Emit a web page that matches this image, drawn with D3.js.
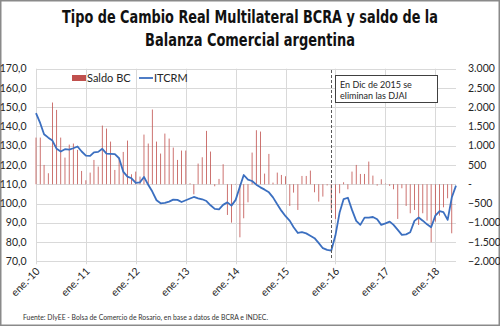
<!DOCTYPE html>
<html>
<head>
<meta charset="utf-8">
<script src="https://cdn.jsdelivr.net/npm/d3@7"></script>
<style>
	body { margin: 0; background: #fff }
	svg { display: block; font-family: Lato, 'Noto Sans', sans-serif }
	.grid line { stroke: #d9d9d9; stroke-width: 1 }
	.ticks text { font-size: 10.5px; fill: #262626 }
	.title { font-family: 'Liberation Sans Narrow', 'DejaVu Sans Condensed', sans-serif; font-weight: bold; font-size: 18px; fill: #111 }
	.legend text { font-size: 11px; fill: #262626 }
	.note text { font-size: 9px; fill: #262626 }
	.source { font-size: 7.5px; fill: #333 }
</style>
</head>
<body>
<svg id="chart" width="500" height="326"></svg>
<script>
// monthly, ene-2010 .. jun-2018
const months = d3.timeMonth.range(new Date(2010, 0, 1), new Date(2018, 6, 1))

const itcrm = [
	146.9, 141.7, 136.0, 134.2, 132.7, 128.4, 127.0, 128.2, 128.0, 128.7, 129.6, 127.0,
	124.9, 124.7, 126.6, 126.8, 128.4, 125.9, 125.8, 125.6, 123.5, 116.6, 114.0, 113.1,
	110.7, 111.0, 113.8, 109.7, 106.2, 101.7, 100.1, 100.3, 101.0, 102.0, 101.9, 100.8,
	101.7, 102.6, 103.4, 102.7, 102.2, 101.3, 99.1, 97.2, 97.0, 99.3, 100.6, 98.9,
	101.9, 108.8, 114.8, 112.4, 111.7, 109.8, 108.4, 107.2, 105.8, 103.2, 99.6, 96.3,
	93.4, 91.0, 87.7, 84.7, 85.1, 84.5, 83.3, 82.0, 79.4, 76.8, 75.9, 75.5,
	83.5, 95.5, 102.3, 103.0, 96.7, 91.0, 88.9, 92.7, 92.7, 93.0, 91.8, 88.9,
	89.7, 90.6, 88.9, 86.3, 83.7, 84.0, 85.1, 91.0, 92.7, 91.1, 89.2, 87.7,
	93.7, 96.1, 95.5, 91.5, 103.1, 109.3
]

const saldoBC = [
	1212, 1212, 502, 286, 2122, 1931, 1212, 693, 1030, 1057, 892, 346,
	104, 303, 632, 459, 1524, 1446, 1108, 372, 675, 840, 1134, 260,
	329, 200, 1290, 1057, 1940, 1108, 797, 1316, 1186, 953, 632, 875,
	875, 25, -260, 537, 701, 1386, 849, -52, 139, 520, -797, -996,
	10, -1377, -883, -468, 823, 1403, 1368, 277, 788, 43, 303, 242,
	208, -563, -217, -667, 216, 216, 355, -208, -450, -320, -30, -667,
	-900, -234, 52, -130, 329, 502, 268, 268, 589, 225, -35, 130,
	17, -43, -130, -900, -104, -563, -753, -667, -1057, -753, -944, -1507,
	-970, -814, -598, -364, -1273, null
]

const leftTicks = [70, 80, 90, 100, 110, 120, 130, 140, 150, 160, 170]
const rightTicks = [-2000, -1500, -1000, -500, 0, 500, 1000, 1500, 2000, 2500, 3000]
const mesesAbr = ['ene', 'feb', 'mar', 'abr', 'may', 'jun', 'jul', 'ago', 'sep', 'oct', 'nov', 'dic']
const titleLines = ['Tipo de Cambio Real Multilateral BCRA y saldo de la', 'Balanza Comercial argentina']
const titleWidths = [376, 210]
const noteLines = ['En Dic de 2015 se', 'eliminan las DJAI']
const noteDate = new Date(2015, 11, 1)
const sourceText = 'Fuente: DIyEE - Bolsa de Comercio de Rosario, en base a datos de BCRA e INDEC.'

const svg = d3.select('#chart')
const plot = {left: 36, right: 456, top: 68.7, bottom: 261.3}

const x = d3.scaleTime().domain([months[0], months[months.length - 1]]).range([plot.left, plot.right])
const yL = d3.scaleLinear().domain([70, 170]).range([plot.bottom, plot.top])
const yR = d3.scaleLinear().domain([-2000, 3000]).range([plot.bottom, plot.top])

const fmtLeft = v => d3.format('.1f')(v).replace('.', ',')
const fmtRight = v => v === 0 ? '-' : d3.format(',')(v).replace(/,/g, '.')
const fmtMonth = d => mesesAbr[d.getMonth()] + '.-' + d3.timeFormat('%y')(d)

// frame
svg.append('rect')
	.attr('x', 0.75).attr('y', 0.75).attr('width', 498.5).attr('height', 324.5)
	.attr('fill', '#fff').attr('stroke', '#8a8a8a').attr('stroke-width', 1.5)

// title: no narrow bold face installed, so squeeze horizontally to the reference width
svg.append('g').selectAll('text').data(titleLines).enter()
	.append('text').attr('class', 'title')
	.attr('text-anchor', 'middle')
	.text(d => d)
	.attr('transform', function(d, i) {
		const k = Math.min(1, titleWidths[i] / this.getComputedTextLength())
		return `translate(250,${23 + i * 23}) scale(${k},1)`
	})

// gridlines
const grid = svg.append('g').attr('class', 'grid')
grid.selectAll('line.h').data(leftTicks).enter()
	.append('line').attr('class', 'h')
	.attr('x1', plot.left).attr('x2', plot.right)
	.attr('y1', d => Math.round(yL(d)) + 0.5).attr('y2', d => Math.round(yL(d)) + 0.5)
const years = x.ticks(d3.timeYear)
grid.selectAll('line.v').data(years).enter()
	.append('line').attr('class', 'v')
	.attr('x1', d => Math.round(x(d)) + 0.5).attr('x2', d => Math.round(x(d)) + 0.5)
	.attr('y1', plot.top).attr('y2', plot.bottom + 3)

// axes labels
const ticks = svg.append('g').attr('class', 'ticks')
ticks.selectAll('text.l').data(leftTicks).enter()
	.append('text').attr('class', 'l')
	.attr('x', 26.5).attr('y', d => yL(d)).attr('dy', '0.35em')
	.attr('text-anchor', 'end')
	.text(fmtLeft)
ticks.selectAll('text.r').data(rightTicks).enter()
	.append('text').attr('class', 'r')
	.attr('x', 468).attr('y', d => yR(d)).attr('dy', '0.35em')
	.text(fmtRight)
ticks.selectAll('text.x').data(years).enter()
	.append('text').attr('class', 'x')
	.attr('transform', d => `translate(${x(d) + 2},${plot.bottom + 8}) rotate(-45)`)
	.attr('text-anchor', 'end').attr('dy', '0.35em')
	.text(fmtMonth)

// bars
const bars = months.map((m, i) => ({m, v: saldoBC[i]})).filter(d => d.v !== null)
svg.append('g').selectAll('rect').data(bars).enter()
	.append('rect')
	.attr('x', d => x(d.m) - 0.4)
	.attr('width', 0.8)
	.attr('y', d => yR(Math.max(0, d.v)))
	.attr('height', d => Math.abs(yR(d.v) - yR(0)))
	.attr('fill', '#c0504d')

// line
const line = d3.line().x((d, i) => x(months[i])).y(d => yL(d))
svg.append('path').datum(itcrm)
	.attr('d', line)
	.attr('fill', 'none')
	.attr('stroke', '#3b6fc0')
	.attr('stroke-width', 1.8)
	.attr('stroke-linejoin', 'round')

// annotation
const xn = Math.round(x(noteDate)) + 0.5
svg.append('line')
	.attr('x1', xn).attr('x2', xn).attr('y1', 70).attr('y2', 259)
	.attr('stroke', '#595959').attr('stroke-width', 1).attr('stroke-dasharray', '3,2')
const note = svg.append('g').attr('class', 'note')
note.append('rect')
	.attr('x', 335.5).attr('y', 75.5).attr('width', 102).attr('height', 27)
	.attr('fill', '#fff').attr('stroke', '#404040').attr('stroke-width', 1)
note.selectAll('text').data(noteLines).enter()
	.append('text')
	.attr('x', 340).attr('y', (d, i) => 88 + i * 11)
	.text(d => d)

// legend
const legend = svg.append('g').attr('class', 'legend')
legend.append('rect').attr('x', 72).attr('y', 75).attr('width', 14).attr('height', 6).attr('fill', '#c0504d')
legend.append('text').attr('x', 87).attr('y', 82).text('Saldo BC')
legend.append('line').attr('x1', 139).attr('x2', 153).attr('y1', 78).attr('y2', 78)
	.attr('stroke', '#3b6fc0').attr('stroke-width', 1.8)
legend.append('text').attr('x', 154).attr('y', 82).text('ITCRM')

// source
svg.append('text').attr('class', 'source')
	.attr('x', 23).attr('y', 320)
	.attr('textLength', 245).attr('lengthAdjust', 'spacingAndGlyphs')
	.text(sourceText)
</script>
</body>
</html>
